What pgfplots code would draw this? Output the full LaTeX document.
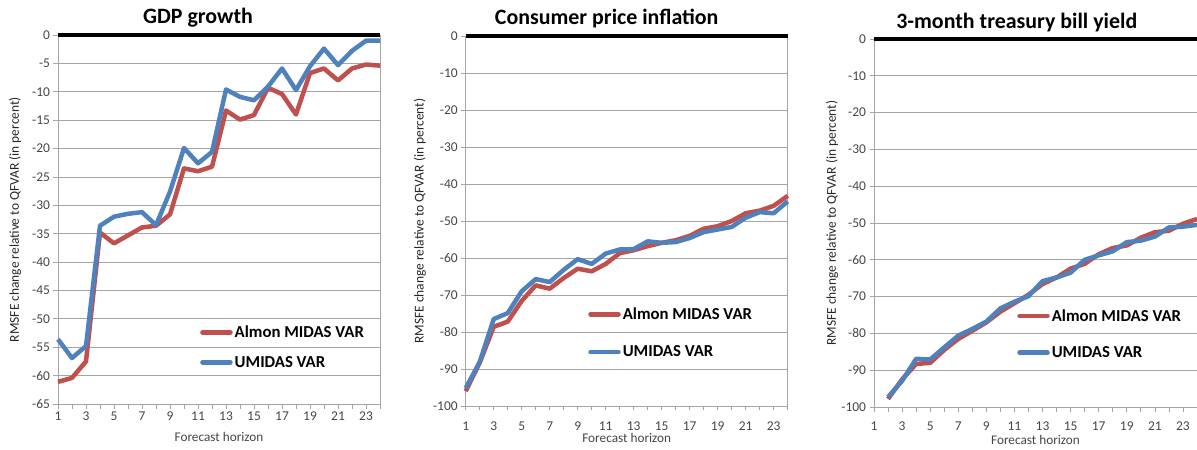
\documentclass[border=0pt]{standalone}
\usepackage{fontspec}
\setmainfont{Carlito}
\usepackage{pgfplots}
\pgfplotsset{compat=1.18}
\definecolor{xred}{RGB}{192,80,77}
\definecolor{xblue}{RGB}{79,129,189}
\definecolor{gridc}{RGB}{165,165,165}
\definecolor{tickc}{RGB}{70,70,70}

\pgfplotsset{
  excel/.style={
    scale only axis,
    clip=false,
    xmin=1, xmax=24,
    xtick={1,3,...,23},
    minor xtick={2,4,...,24},
    tick pos=left,
    tick align=outside,
    major tick length=4.5bp,
    minor tick length=4.5bp,
    every tick/.style={gridc, line width=0.75bp},
    every minor tick/.style={gridc, line width=0.75bp},
    ymajorgrids,
    grid style={gridc, line width=0.75bp},
    axis line style={gridc, line width=0.75bp},
    tick label style={font=\fontsize{13.5}{16}\selectfont, text=tickc},
    /pgf/number format/assume math mode=true,
    every axis title/.style={font=\bfseries\fontsize{22}{26}\selectfont, anchor=base},
    every axis x label/.style={font=\fontsize{13.3}{16}\selectfont, text=tickc, anchor=center},
    every axis y label/.style={font=\fontsize{13.5}{16}\selectfont, text=black!85, anchor=center, rotate=90},
    legend style={draw=none, fill=none, inner sep=0pt, anchor=west,
      font=\bfseries\fontsize{16.8}{20}\selectfont, cells={anchor=west}},
    legend image code/.code={\draw[#1, line cap=round] (0bp,0bp) -- (28bp,0bp);},
    every axis plot/.append style={line width=4.5bp, mark=none, line join=round},
    xlabel={Forecast horizon},
    ylabel={RMSFE change relative to QFVAR (in percent)},
  },
}

\begin{document}
\begin{tikzpicture}
\useasboundingbox (0,0) rectangle (1197bp,450bp);

% ---------- GDP growth ----------
\begin{axis}[excel,
  at={(58bp,46bp)}, anchor=south west,
  width=322bp, height=369bp,
  ymin=-65, ymax=0, ytick={-65,-60,...,0},
  title={GDP growth},
  title style={at={(0.435,1)}, yshift=11.7bp},
  xlabel style={at={(axis description cs:0.5,-0.0886)}},
  ylabel style={at={(axis description cs:-0.1335,0.5)}},
  legend style={at={(0.441,0.154)}, row sep=13bp},
]
\addplot[black, line width=4bp, forget plot] coordinates {(1,0) (24,0)};
\addplot[xred] coordinates {(1,-61.1)(2,-60.4)(3,-57.5)(4,-34.8)(5,-36.7)(6,-35.3)(7,-33.9)(8,-33.6)(9,-31.6)(10,-23.5)(11,-24.0)(12,-23.2)(13,-13.3)(14,-14.9)(15,-14.1)(16,-9.3)(17,-10.4)(18,-14.0)(19,-6.7)(20,-5.9)(21,-8.0)(22,-5.9)(23,-5.2)(24,-5.4)};
\addlegendentry{Almon MIDAS VAR}
\addplot[xblue] coordinates {(1,-53.6)(2,-56.9)(3,-54.8)(4,-33.6)(5,-32.0)(6,-31.5)(7,-31.2)(8,-33.5)(9,-27.6)(10,-19.9)(11,-22.6)(12,-20.6)(13,-9.6)(14,-10.9)(15,-11.5)(16,-9.1)(17,-5.9)(18,-9.7)(19,-5.5)(20,-2.4)(21,-5.3)(22,-2.8)(23,-1.0)(24,-1.0)};
\addlegendentry{UMIDAS VAR}
\end{axis}

% ---------- Consumer price inflation ----------
\begin{axis}[excel,
  at={(465.7bp,44bp)}, anchor=south west,
  width=322bp, height=370bp,
  ymin=-100, ymax=0, ytick={-100,-90,...,0},
  title={Consumer price inflation},
  title style={at={(0.438,1)}, yshift=11bp},
  xticklabel style={yshift=-8bp},
  xlabel style={at={(axis description cs:0.5,-0.0875)}},
  ylabel style={at={(axis description cs:-0.142,0.5)}},
  legend style={at={(0.380,0.197)}, row sep=21bp},
]
\addplot[black, line width=4bp, forget plot] coordinates {(1,0) (24,0)};
\addplot[xred] coordinates {(1,-96.0)(2,-88.3)(3,-78.6)(4,-77.2)(5,-71.6)(6,-67.4)(7,-68.3)(8,-65.4)(9,-62.9)(10,-63.6)(11,-61.6)(12,-58.7)(13,-57.9)(14,-56.8)(15,-55.9)(16,-55.2)(17,-54.0)(18,-52.1)(19,-51.4)(20,-50.0)(21,-47.9)(22,-47.2)(23,-45.9)(24,-43.2)};
\addlegendentry{Almon MIDAS VAR}
\addplot[xblue] coordinates {(1,-95.2)(2,-88.1)(3,-76.5)(4,-74.9)(5,-69.0)(6,-65.7)(7,-66.5)(8,-63.2)(9,-60.3)(10,-61.6)(11,-58.8)(12,-57.7)(13,-57.6)(14,-55.5)(15,-55.9)(16,-55.7)(17,-54.6)(18,-53.0)(19,-52.3)(20,-51.6)(21,-49.1)(22,-47.6)(23,-47.9)(24,-44.7)};
\addlegendentry{UMIDAS VAR}
\end{axis}

% ---------- 3-month treasury bill yield ----------
\begin{axis}[excel,
  at={(874bp,43bp)}, anchor=south west,
  width=323bp, height=368bp,
  ymin=-100, ymax=0, ytick={-100,-90,...,0},
  title={3-month treasury bill yield},
  title style={at={(0.442,1)}, yshift=10.7bp},
  xticklabel style={yshift=-7bp},
  xlabel style={at={(axis description cs:0.5,-0.0897)}},
  ylabel style={at={(axis description cs:-0.130,0.5)}},
  legend style={at={(0.443,0.198)}, row sep=20bp},
]
\addplot[black, line width=4bp, forget plot] coordinates {(1,0) (24,0)};
\addplot[xred] coordinates {(2,-97.8)(3,-92.5)(4,-88.3)(5,-88.0)(6,-84.5)(7,-81.5)(8,-79.3)(9,-77.0)(10,-74.1)(11,-71.8)(12,-69.5)(13,-66.6)(14,-64.8)(15,-62.4)(16,-61.1)(17,-58.5)(18,-56.8)(19,-56.1)(20,-54.0)(21,-52.5)(22,-52.1)(23,-50.2)(24,-48.9)};
\addlegendentry{Almon MIDAS VAR}
\addplot[xblue] coordinates {(2,-97.3)(3,-92.9)(4,-86.9)(5,-87.1)(6,-83.8)(7,-80.6)(8,-78.8)(9,-76.8)(10,-73.2)(11,-71.4)(12,-69.9)(13,-65.8)(14,-64.8)(15,-63.5)(16,-60.0)(17,-58.8)(18,-57.7)(19,-55.2)(20,-54.8)(21,-53.7)(22,-51.2)(23,-51.0)(24,-50.5)};
\addlegendentry{UMIDAS VAR}
\end{axis}
\end{tikzpicture}
\end{document}
